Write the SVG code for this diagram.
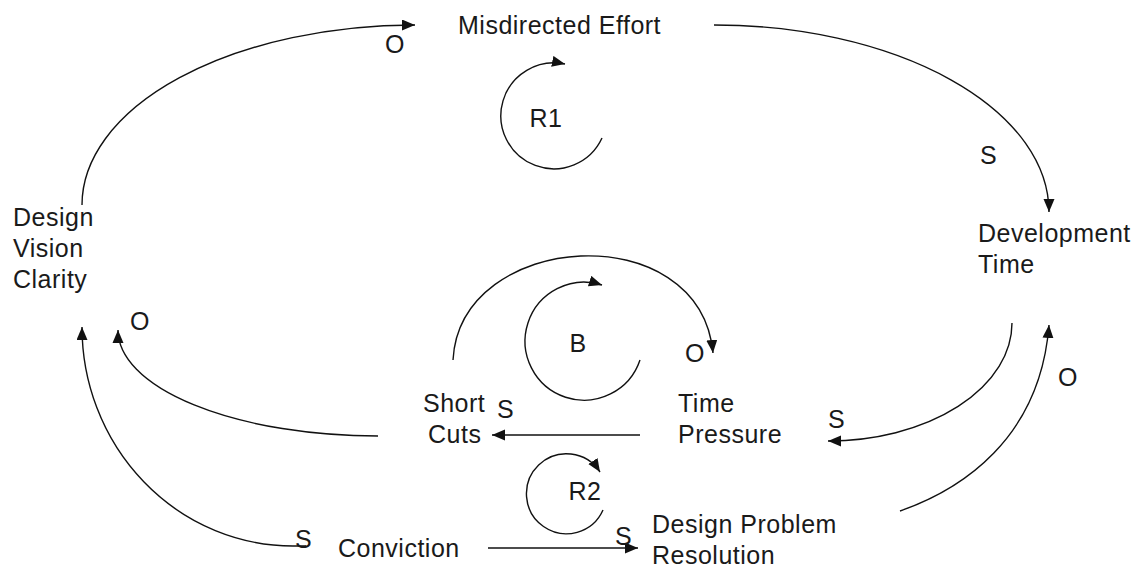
<svg xmlns="http://www.w3.org/2000/svg" width="1143" height="570" viewBox="0 0 1143 570">
<style>
.t{font-family:"Liberation Sans",Arial,sans-serif;font-size:25px;fill:#1a1a1a;letter-spacing:0.5px;}
.c{fill:none;stroke:#111;stroke-width:1.4;}
.a{marker-end:url(#ah);}
</style>
<defs>
<marker id="ah" markerUnits="userSpaceOnUse" markerWidth="14" markerHeight="12" refX="13" refY="5.5" orient="auto">
<path d="M0,0 L13,5.5 L0,11 z" fill="#111"/>
</marker>
</defs>
<rect width="1143" height="570" fill="#fff"/>
<g id="connectors">
<path class="c a" d="M 82 205 A 333 180 0 0 1 415 25"/>
<path class="c a" d="M 714 25 A 335 187 0 0 1 1049 212"/>
<path class="c a" d="M 1012 323 A 184 118 0 0 1 828 441"/>
<path class="c a" d="M 900 511 C 960 490, 1040 440, 1049 325"/>
<path class="c a" d="M 640 435 L 492 435"/>
<path class="c a" d="M 453 360 C 460 230, 700 215, 713 353"/>
<path class="c a" d="M 378 436 A 260 106 0 0 1 118 330"/>
<path class="c a" d="M 306 546 L 293 546 A 211 219 0 0 1 82 327"/>
<path class="c a" d="M 488 548 L 638 548"/>
<path class="c a" d="M 602 138 A 53 53 0 1 1 565 64"/>
<path class="c a" d="M 640 360 A 59 59 0 1 1 602 285"/>
<path class="c a" d="M 603 510 A 40 40 0 1 1 600 472"/>
<text class="t" x="385" y="53">O</text>
<text class="t" x="980" y="164">S</text>
<text class="t" x="828" y="428">S</text>
<text class="t" x="1058" y="386">O</text>
<text class="t" x="497" y="418">S</text>
<text class="t" x="685" y="362">O</text>
<text class="t" x="130" y="330">O</text>
<text class="t" x="295" y="548">S</text>
<text class="t" x="615" y="545">S</text>
<text class="t" x="546" y="127" text-anchor="middle">R1</text>
<text class="t" x="578" y="352" text-anchor="middle">B</text>
<text class="t" x="585" y="500" text-anchor="middle">R2</text>
</g>
<g id="misdirected-effort"><text class="t" x="458" y="34">Misdirected Effort</text></g>
<g id="development-time"><text class="t" x="978" y="242">Development</text><text class="t" x="978" y="273">Time</text></g>
<g id="design-vision-clarity"><text class="t" x="13" y="226">Design</text><text class="t" x="13" y="257">Vision</text><text class="t" x="13" y="288">Clarity</text></g>
<g id="short-cuts"><text class="t" x="423" y="412">Short</text><text class="t" x="428" y="443">Cuts</text></g>
<g id="time-pressure"><text class="t" x="678" y="412">Time</text><text class="t" x="678" y="443">Pressure</text></g>
<g id="conviction"><text class="t" x="338" y="557">Conviction</text></g>
<g id="design-problem-resolution"><text class="t" x="652" y="533">Design Problem</text><text class="t" x="652" y="564">Resolution</text></g>
</svg>
